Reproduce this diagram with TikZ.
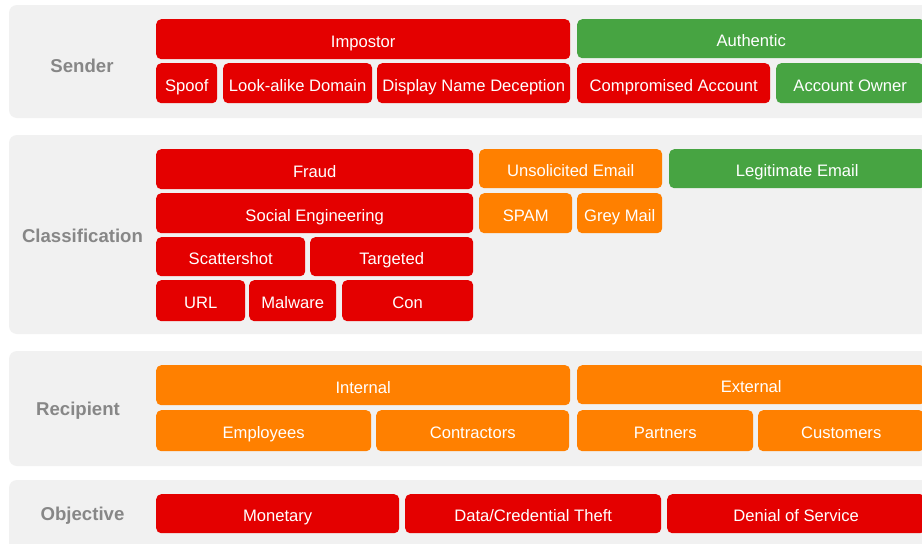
\documentclass[tikz,border=0pt]{standalone}
\usepackage{fontspec}
\setmainfont{Liberation Sans}
\definecolor{panelgrey}{HTML}{F1F1F1}
\definecolor{labelgrey}{HTML}{878787}
\definecolor{cred}{HTML}{E40000}
\definecolor{cgreen}{HTML}{47A442}
\definecolor{corange}{HTML}{FF8000}
\tikzset{
  panel/.style={fill=panelgrey, draw=none, rounded corners=8pt},
  rowlabel/.style={text=labelgrey, font=\bfseries\fontsize{18.6}{22}\selectfont, inner sep=0pt},
  cell/.style={draw=none, rounded corners=5pt, inner sep=0pt, anchor=north west,
    text=white, font=\fontsize{16.6}{19}\selectfont, text height=15.6pt, text depth=0pt},
}
% \tcell{name}{x1}{y1}{x2}{y2}{colour}{text}  (y measured downward)
\newcommand{\tcell}[7]{%
  \node[cell, fill=#6, minimum width={(#4-#2)*1pt}, minimum height={(#5-#3)*1pt}]
    (#1) at ({#2*1pt},{-#3*1pt}) {#7};}
\begin{document}
\begin{tikzpicture}
\useasboundingbox (0,0) rectangle (922pt,-544pt);
\fill[white] (0,0) rectangle (922pt,-544pt);

% background bands
\fill[panel] (9pt,-5pt) rectangle (945pt,-118pt);
\fill[panel] (9pt,-135pt) rectangle (945pt,-334pt);
\fill[panel] (9pt,-351pt) rectangle (945pt,-466pt);
\fill[panel] (9pt,-480pt) rectangle (945pt,-570pt);

% band titles
\node[rowlabel] (lsender) at (82pt,-65.5pt) {Sender};
\node[rowlabel] (lclass) at (82.5pt,-235.5pt) {Classification};
\node[rowlabel] (lrecip) at (78pt,-410.5pt) {Recipient};
\node[rowlabel] (lobj) at (82.5pt,-515.5pt) {Objective};

% Sender
\tcell{impostor}{156}{19}{570}{59}{cred}{Impostor}
\tcell{authentic}{577}{19}{925}{58}{cgreen}{Authentic}
\tcell{spoof}{156}{63}{217}{103}{cred}{Spoof}
\tcell{lookalike}{223}{63}{372}{103}{cred}{Look-alike Domain}
\tcell{displayname}{377}{63}{570}{103}{cred}{Display Name Deception}
\tcell{compromised}{577}{63}{770}{103}{cred}{Compromised Account}
\tcell{owner}{776}{63}{924}{103}{cgreen}{Account Owner}

% Classification
\tcell{fraud}{156}{149}{473}{189}{cred}{Fraud}
\tcell{unsolicited}{479}{149}{662}{188}{corange}{Unsolicited Email}
\tcell{legitimate}{669}{149}{925}{188}{cgreen}{Legitimate Email}
\tcell{social}{156}{193}{473}{233}{cred}{Social Engineering}
\tcell{spam}{479}{193}{572}{233}{corange}{SPAM}
\tcell{greymail}{577}{193}{662}{233}{corange}{Grey Mail}
\tcell{scatter}{156}{237}{305}{276}{cred}{Scattershot}
\tcell{targeted}{310}{237}{473}{276}{cred}{Targeted}
\tcell{url}{156}{280}{245}{321}{cred}{URL}
\tcell{malware}{249}{280}{336}{321}{cred}{Malware}
\tcell{con}{342}{280}{473}{321}{cred}{Con}

% Recipient
\tcell{internal}{156}{365}{570}{405}{corange}{Internal}
\tcell{external}{577}{365}{925}{404}{corange}{External}
\tcell{employees}{156}{410}{371}{451}{corange}{Employees}
\tcell{contractors}{376}{410}{569}{451}{corange}{Contractors}
\tcell{partners}{577}{410}{753}{451}{corange}{Partners}
\tcell{customers}{758}{410}{924}{451}{corange}{Customers}

% Objective
\tcell{monetary}{156}{494}{399}{533}{cred}{Monetary}
\tcell{theft}{405}{494}{661}{533}{cred}{Data/Credential Theft}
\tcell{dos}{667}{494}{925}{533}{cred}{Denial of Service}
\end{tikzpicture}
\end{document}
